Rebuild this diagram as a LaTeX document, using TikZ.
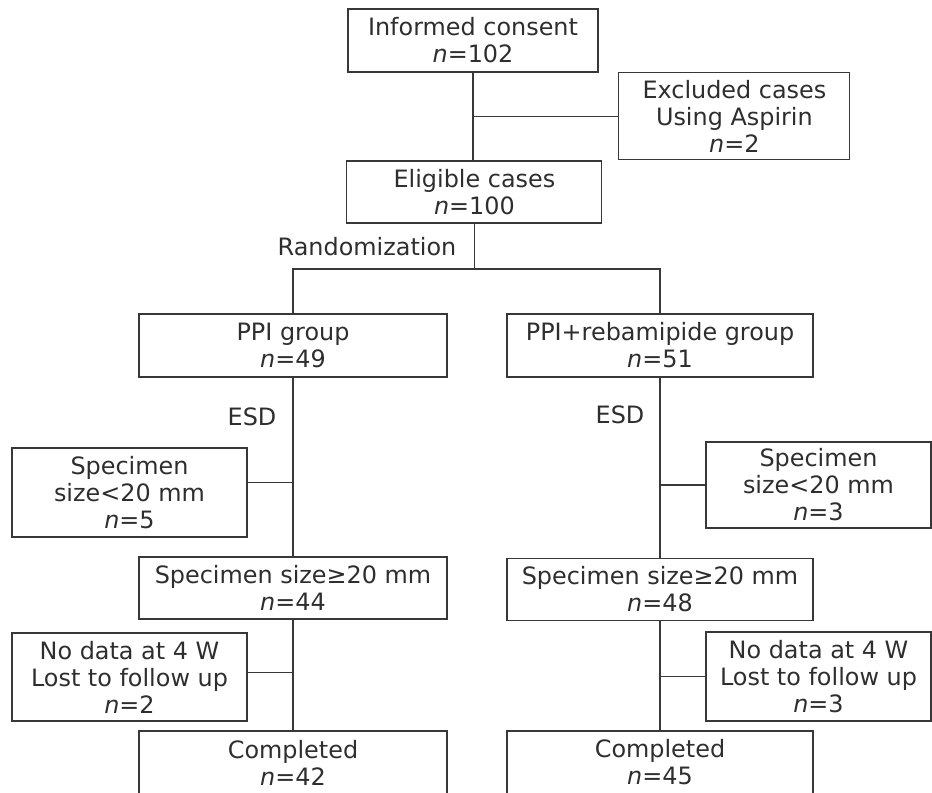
\documentclass[tikz,border=0pt]{standalone}
\usepackage{fontspec}
\setmainfont{DejaVu Sans}
\usetikzlibrary{positioning,calc}

\begin{document}
\begin{tikzpicture}[
  every node/.style={font=\fontsize{17}{19.2}\selectfont, text=black!82},
  mainbox/.style={draw=black!78, line width=0.75pt, align=center,
                  minimum width=7.7cm, minimum height=1.575cm, inner sep=1pt},
  sidebox/.style={draw=black!78, line width=0.75pt, align=center,
                  minimum width=5.875cm, minimum height=2.2cm, inner sep=1pt},
  link/.style={draw=black!78, line width=0.75pt},
  labl/.style={inner sep=0pt}]

\clip (0,0) rectangle (23.3,-19.8);

%% -- Enrolment ------------------------------------------------------
\node[mainbox, minimum width=6.25cm] (consent) at (11.825,-1.0125) {Informed consent\\\textit{n}=102};
\node[sidebox, minimum width=5.775cm, minimum height=2.175cm] (excl) at (18.36,-2.91) {Excluded cases\\Using Aspirin\\\textit{n}=2};
\node[mainbox, minimum width=6.375cm, minimum height=1.55cm] (elig) at (11.86,-4.8) {Eligible cases\\\textit{n}=100};
\node[labl] (rand) at (9.175,-6.175) {Randomization};

%% -- Allocation -----------------------------------------------------
\node[mainbox] (ppi) at (7.325,-8.6375) {PPI group\\\textit{n}=49};
\node[mainbox, minimum width=7.65cm] (reb) at (16.5,-8.6375) {PPI+rebamipide group\\\textit{n}=51};
\node[labl] (esdl) at (6.3,-10.425) {ESD};
\node[labl] (esdr) at (15.5,-10.375) {ESD};

%% -- Specimens ------------------------------------------------------
\node[sidebox, minimum height=2.225cm] (spl) at (3.2375,-12.3125) {Specimen\\size<20 mm\\\textit{n}=5};
\node[sidebox, minimum width=5.625cm, minimum height=2.15cm] (spr) at (20.4625,-12.125) {Specimen\\size<20 mm\\\textit{n}=3};
\node[mainbox, minimum height=1.55cm] (bigl) at (7.325,-14.7) {Specimen size≥20 mm\\\textit{n}=44};
\node[mainbox, minimum width=7.65cm, minimum height=1.55cm] (bigr) at (16.5,-14.7375) {Specimen size≥20 mm\\\textit{n}=48};

%% -- Follow up ------------------------------------------------------
\node[sidebox] (lostl) at (3.2375,-16.925) {No data at 4 W\\Lost to follow up\\\textit{n}=2};
\node[sidebox, minimum width=5.625cm, minimum height=2.225cm] (lostr) at (20.4625,-16.9125) {No data at 4 W\\Lost to follow up\\\textit{n}=3};
\node[mainbox] (compl) at (7.325,-19.0625) {Completed\\\textit{n}=42};
\node[mainbox, minimum width=7.65cm] (compr) at (16.5,-19.0625) {Completed\\\textit{n}=45};

%% -- Junctions ------------------------------------------------------
\coordinate (split) at (11.85,-6.725);
\coordinate (jl1) at ($(ppi.south)+(0,-2.625)$);
\coordinate (jl2) at ($(bigl.south)+(0,-1.325)$);

%% -- Connectors -----------------------------------------------------
\draw[link] (consent.south) -- (consent.south |- elig.north);
\draw[link] (excl.west) -- (excl.west -| consent.south);
\draw[link] (elig.south) -- (elig.south |- split);
\draw[link] (ppi.north) |- (split) -| (reb.north);

\draw[link] (ppi.south) -- (bigl.north);
\draw[link] (jl1) -- (jl1 -| spl.east);
\draw[link] (bigl.south) -- (compl.north);
\draw[link] (jl2) -- (jl2 -| lostl.east);

\draw[link] (reb.south) -- (bigr.north);
\draw[link] (spr.west) -- (spr.west -| reb.south);
\draw[link] (bigr.south) -- (compr.north);
\draw[link] (lostr.west) -- (lostr.west -| bigr.south);
\end{tikzpicture}
\end{document}
